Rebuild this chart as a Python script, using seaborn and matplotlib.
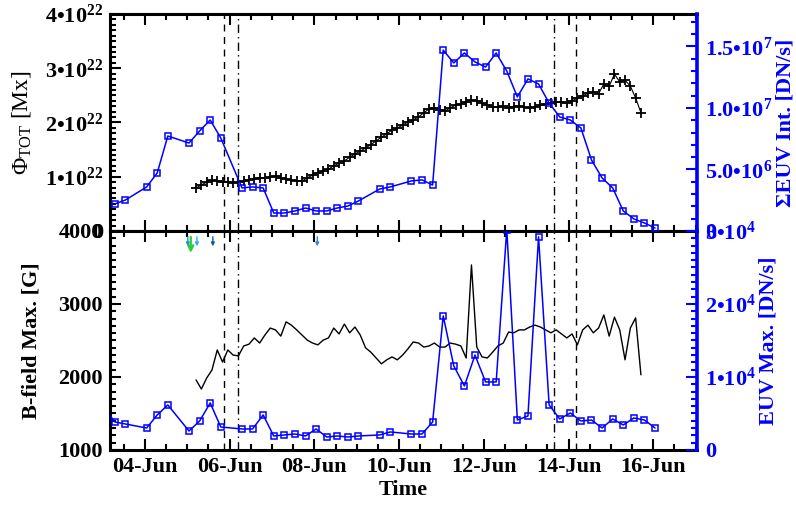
import numpy as np
import pandas as pd
import matplotlib
matplotlib.use('Agg')
import matplotlib.pyplot as plt
import matplotlib.dates as mdates
from matplotlib.ticker import AutoMinorLocator, FuncFormatter
import seaborn as sns

sns.set_style('ticks')
plt.rcParams['font.family'] = ['Liberation Serif', 'DejaVu Serif']
plt.rcParams['mathtext.fontset'] = 'custom'
plt.rcParams['mathtext.rm'] = 'Liberation Serif'
plt.rcParams['mathtext.bf'] = 'Liberation Serif:bold'
plt.rcParams['mathtext.it'] = 'Liberation Serif:italic'
plt.rcParams['text.color'] = 'black'
plt.rcParams['axes.labelcolor'] = 'black'

# ---- EUV samples (6-hourly slots counted from 03-Jun 07:00) ----
euv_start = pd.Timestamp('2011-06-03 07:00')
int_slots = [0, 1, 3, 4, 5, 7, 8, 9, 10, 12, 13, 14, 15, 16, 17, 18, 19, 20, 21, 22, 23,
             25, 26, 28, 29, 30, 31, 32, 33, 34, 35, 36, 37, 38, 39, 40, 41, 42, 43, 44,
             45, 46, 47, 48, 49, 50, 51]
euv_int = [2.20e6, 2.52e6, 3.58e6, 4.72e6, 7.72e6, 7.15e6, 8.13e6, 9.02e6, 7.56e6,
           3.50e6, 3.58e6, 3.50e6, 1.46e6, 1.46e6, 1.63e6, 1.87e6, 1.63e6, 1.63e6,
           1.87e6, 2.03e6, 2.44e6, 3.41e6, 3.58e6, 4.07e6, 4.15e6, 3.74e6, 14.70e6,
           13.66e6, 14.47e6, 13.74e6, 13.33e6, 14.47e6, 13.00e6, 10.90e6, 12.36e6,
           11.95e6, 10.40e6, 9.27e6, 9.02e6, 8.37e6, 5.77e6, 4.31e6, 3.50e6, 1.63e6,
           0.98e6, 0.65e6, 0.24e6]

max_slots = [-1] + int_slots
euv_max = [5750, 3840, 3560, 3010, 4800, 6170, 2600, 3970, 6440, 3150, 2880, 2880, 4800,
           1920, 2060, 2190, 1920, 2880, 1780, 1920, 1780, 1920, 2060, 2470, 2190, 2190,
           3840, 18360, 11510, 8770, 13000, 9320, 9320, 30200, 4110, 4660, 29200, 6170,
           4250, 5070, 3970, 4110, 3010, 4250, 3430, 4380, 4110, 3010]

# ---- magnetic samples (3-hourly from 05-Jun 05:00) ----
mag_start = pd.Timestamp('2011-06-05 05:00')
phi_tot = [0.79, 0.85, 0.90, 0.94, 0.92, 0.90, 0.91, 0.89, 0.90, 0.92, 0.94, 0.96, 0.98,
           0.97, 1.00, 1.01, 0.98, 0.95, 0.94, 0.92, 0.92, 0.98, 1.03, 1.07, 1.11, 1.14,
           1.20, 1.25, 1.29, 1.36, 1.42, 1.47, 1.53, 1.59, 1.66, 1.73, 1.79, 1.86, 1.90,
           1.95, 2.01, 2.05, 2.10, 2.18, 2.25, 2.27, 2.23, 2.21, 2.27, 2.32, 2.34, 2.38,
           2.41, 2.40, 2.36, 2.32, 2.29, 2.28, 2.30, 2.27, 2.29, 2.31, 2.28, 2.27, 2.29,
           2.32, 2.34, 2.36, 2.38, 2.37, 2.36, 2.40, 2.45, 2.49, 2.54, 2.56, 2.53, 2.71,
           2.67, 2.89, 2.75, 2.78, 2.67, 2.45, 2.18]
b_max = [1960, 1835, 1985, 2095, 2370, 2205, 2370, 2300, 2290, 2425, 2450, 2535, 2465,
         2575, 2670, 2645, 2560, 2755, 2710, 2645, 2575, 2505, 2465, 2440, 2505, 2535,
         2670, 2590, 2725, 2605, 2685, 2575, 2400, 2340, 2260, 2180, 2235, 2275, 2235,
         2300, 2385, 2480, 2465, 2410, 2425, 2465, 2410, 2410, 2465, 2450, 2425, 2260,
         3535, 2410, 2275, 2260, 2340, 2425, 2465, 2615, 2605, 2645, 2645, 2685, 2710,
         2685, 2645, 2605, 2645, 2590, 2535, 2590, 2440, 2645, 2710, 2605, 2670, 2850,
         2560, 2820, 2645, 2235, 2670, 2810, 2030]

# ---- event markers ----
dash_times = ['2011-06-05 20:40', '2011-06-14 04:30']
dashdot_times = ['2011-06-06 04:40', '2011-06-13 15:30']
arrow_times = ['2011-06-05 00:20', '2011-06-05 02:00', '2011-06-05 05:30',
               '2011-06-05 14:30', '2011-06-08 01:40']
arrow_colors = ['#1a90d8', '#2ecc40', '#30a8ff', '#0a5aa8', '#2a8ad8']

int_t = [euv_start + pd.Timedelta(hours=6 * k) for k in int_slots]
max_t = [euv_start + pd.Timedelta(hours=6 * k) for k in max_slots]
mag_t = [mag_start + pd.Timedelta(hours=3 * i) for i in range(len(phi_tot))]
phi_vals = [v * 1e22 for v in phi_tot]

fig = plt.figure(figsize=(7.96, 5.08), dpi=100)
ax1 = fig.add_axes([0.1382, 0.5453, 0.7374, 0.4272])
ax2 = fig.add_axes([0.1382, 0.1142, 0.7374, 0.4311], sharex=ax1)
ax1r = ax1.twinx()
ax2r = ax2.twinx()

blue = '#0000ff'
sns.lineplot(x=mag_t, y=phi_vals, ax=ax1, color='black', lw=0.8, marker='+',
             markersize=7, markeredgewidth=1.3, markeredgecolor='black')
sns.lineplot(x=int_t, y=euv_int, ax=ax1r, color=blue, lw=1.1, marker='s',
             markersize=5, markerfacecolor='none', markeredgecolor=blue,
             markeredgewidth=1.1)
sns.lineplot(x=mag_t, y=b_max, ax=ax2, color='black', lw=1.0)
sns.lineplot(x=max_t, y=euv_max, ax=ax2r, color=blue, lw=1.1, marker='s',
             markersize=5, markerfacecolor='none', markeredgecolor=blue,
             markeredgewidth=1.1)

for ax in (ax1, ax2):
    for t in dash_times:
        ax.axvline(pd.Timestamp(t), color='black', lw=1.0, ls=(0, (5, 4)))
    for t in dashdot_times:
        ax.axvline(pd.Timestamp(t), color='black', lw=1.0, ls=(0, (6, 3, 1, 3)))

for t, c in zip(arrow_times, arrow_colors):
    big = c == '#2ecc40'
    ax2.annotate('', xy=(pd.Timestamp(t), 3700 if big else 3790),
                 xytext=(pd.Timestamp(t), 3920),
                 arrowprops=dict(arrowstyle='-|>', color=c, lw=1.6 if big else 1.0,
                                 mutation_scale=9 if big else 5, shrinkA=0, shrinkB=0))

ax1.set_xlim(pd.Timestamp('2011-06-03 04:15'), pd.Timestamp('2011-06-17 00:45'))
ax1.xaxis.set_major_locator(mdates.DayLocator(bymonthday=list(range(2, 31, 2))))
ax1.xaxis.set_minor_locator(mdates.HourLocator(byhour=[0, 12]))
ax1.xaxis.set_major_formatter(mdates.DateFormatter('%d-%b'))


def sci(decimals):
    def f(v, pos):
        if abs(v) < 1e-12:
            return '0'
        e = int(np.floor(np.log10(v) + 1e-9))
        m = v / 10 ** e
        return f'{m:.{decimals}f}•10$^{{\\mathbf{{{e}}}}}$'
    return FuncFormatter(f)


ax1.set_ylim(0, 4e22)
ax1.set_yticks([0, 1e22, 2e22, 3e22, 4e22])
ax1.yaxis.set_major_formatter(sci(0))
ax1.yaxis.set_minor_locator(AutoMinorLocator(10))

ax1r.set_ylim(0, 1.764e7)
ax1r.set_yticks([0, 5e6, 1e7, 1.5e7])
ax1r.yaxis.set_major_formatter(sci(1))
ax1r.yaxis.set_minor_locator(AutoMinorLocator(5))

ax2.set_ylim(1000, 4000)
ax2.set_yticks([1000, 2000, 3000, 4000])
ax2.yaxis.set_minor_locator(AutoMinorLocator(10))

ax2r.set_ylim(0, 3e4)
ax2r.set_yticks([0, 1e4, 2e4, 3e4])
ax2r.yaxis.set_major_formatter(sci(0))
ax2r.yaxis.set_minor_locator(AutoMinorLocator(10))

fs = 16
for ax in (ax1, ax2):
    ax.tick_params(axis='both', which='both', direction='in', width=1.5, colors='black',
                   labelsize=fs, top=True, bottom=True, pad=5)
    ax.tick_params(which='major', length=8)
    ax.tick_params(which='minor', length=4)
    for s in ('left', 'top', 'bottom'):
        ax.spines[s].set_linewidth(2.2)
        ax.spines[s].set_color('black')
    ax.spines['right'].set_visible(False)
    for lab in ax.get_xticklabels() + ax.get_yticklabels():
        lab.set_fontweight('bold')
ax1.tick_params(axis='x', labelbottom=False)

for ax in (ax1r, ax2r):
    ax.tick_params(axis='y', which='both', direction='in', width=1.5, colors=blue,
                   labelsize=fs, pad=6)
    ax.tick_params(which='major', length=8)
    ax.tick_params(which='minor', length=4)
    for s in ('left', 'top', 'bottom'):
        ax.spines[s].set_visible(False)
    ax.spines['right'].set_linewidth(2.6)
    ax.spines['right'].set_color(blue)
    for lab in ax.get_yticklabels():
        lab.set_fontweight('bold')

ax1.set_ylabel(r'Φ$_{\rm TOT}$ [Mx]', fontsize=17, fontweight='normal', color='black')
ax1.yaxis.set_label_coords(-0.131, 0.5)
ax2.set_ylabel('B-field Max. [G]', fontsize=16, fontweight='bold', color='black')
ax2.yaxis.set_label_coords(-0.116, 0.5)
ax2.set_xlabel('Time', fontsize=16, fontweight='bold', labelpad=2, color='black')
ax1r.set_ylabel('ΣEUV Int. [DN/s]', fontsize=16, fontweight='bold', color=blue,
                rotation=90)
ax1r.yaxis.set_label_coords(1.134, 0.5)
ax2r.set_ylabel('EUV Max. [DN/s]', fontsize=16, fontweight='bold', color=blue,
                rotation=90)
ax2r.yaxis.set_label_coords(1.104, 0.5)

fig.savefig('out.png', dpi=100)
